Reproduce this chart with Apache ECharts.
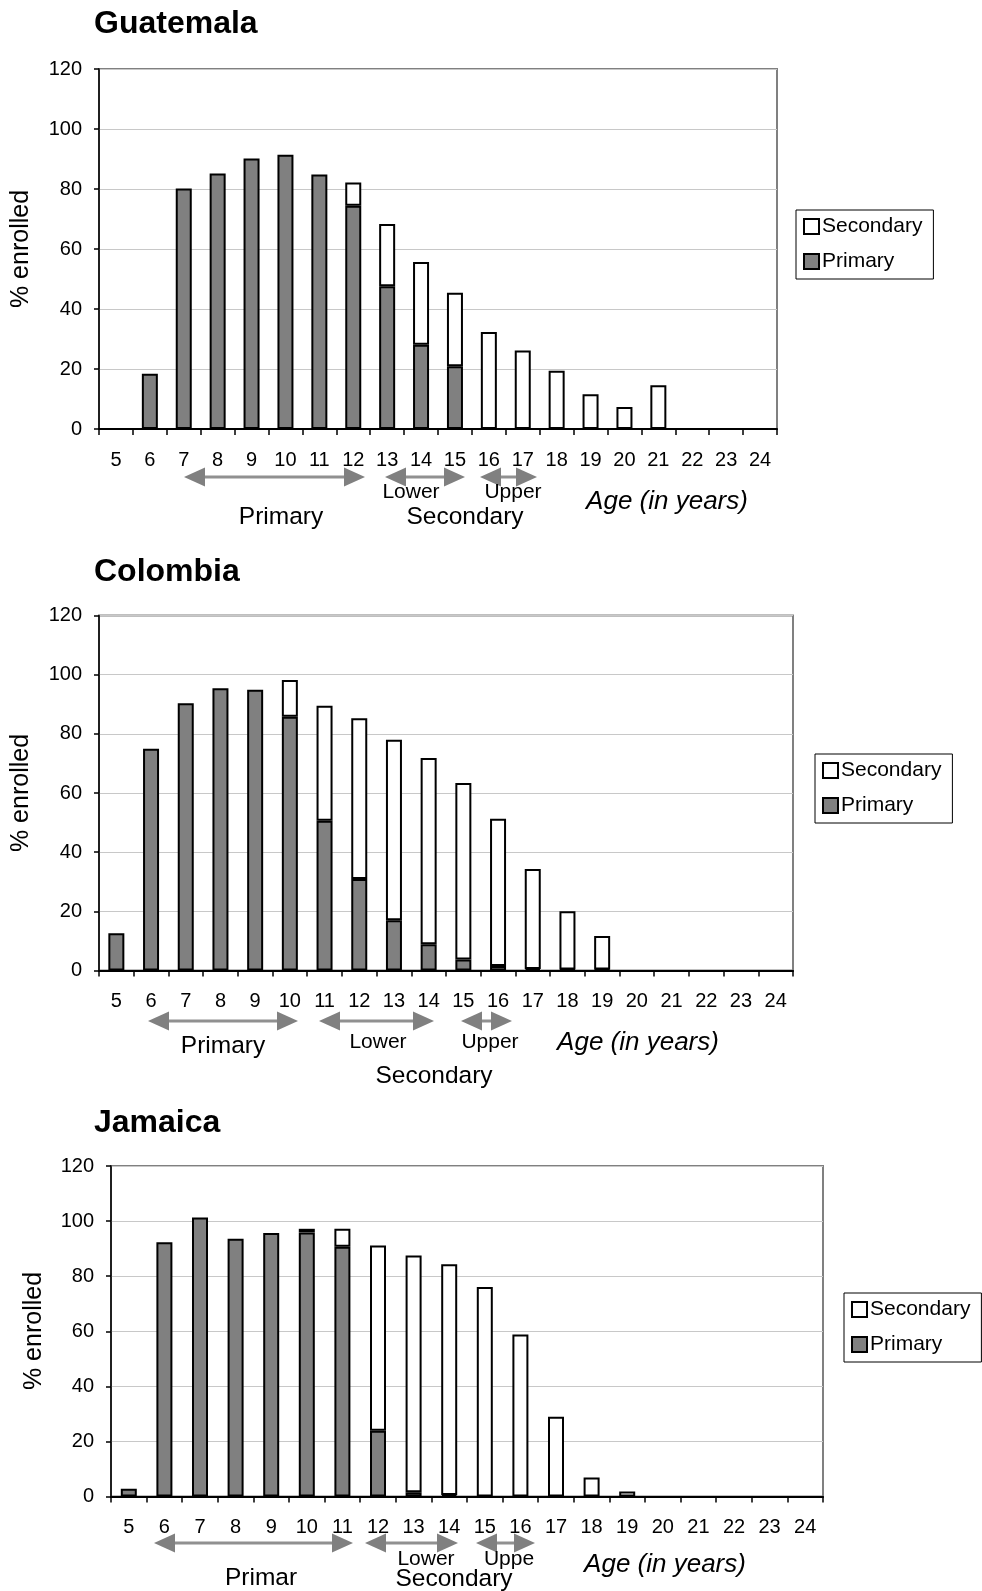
<!DOCTYPE html>
<html>
<head>
<meta charset="utf-8">
<script src="https://cdn.jsdelivr.net/npm/echarts@6/dist/echarts.min.js"></script>
<style>
  html, body { margin: 0; padding: 0; background: #fff; }
  #chart { width: 982px; height: 1591px; }
</style>
</head>
<body>
<div id="chart"></div>
<script>
// Age categories shared by the three panels
const ages = ['5','6','7','8','9','10','11','12','13','14','15','16','17','18','19','20','21','22','23','24'];
const yTicks = { min: 0, max: 120, interval: 20 };

// % enrolled by level, one value per age (5..24)
const guatemalaPrimary   = [0, 18.4, 80.2, 85.2, 90.2, 91.4, 84.8, 74.4, 47.6, 28.1, 20.9, 0, 0, 0, 0, 0, 0, 0, 0, 0];
const guatemalaSecondary = [0, 0, 0, 0, 0, 0, 0, 7.8, 20.7, 27.6, 24.5, 32.3, 26.2, 19.4, 11.6, 7.3, 14.6, 0, 0, 0];

const colombiaPrimary    = [12.6, 75.0, 90.3, 95.4, 94.9, 85.8, 50.6, 30.9, 17.0, 8.9, 3.7, 1.5, 0.5, 0.3, 0.3, 0, 0, 0, 0, 0];
const colombiaSecondary  = [0, 0, 0, 0, 0, 12.4, 38.9, 54.4, 61.0, 62.9, 59.7, 49.8, 33.8, 19.7, 11.4, 0, 0, 0, 0, 0];

const jamaicaPrimary     = [2.8, 92.3, 101.3, 93.6, 95.7, 95.9, 90.7, 23.9, 1.5, 0.5, 0, 0, 0, 0, 0, 0, 0, 0, 0, 0];
const jamaicaSecondary   = [0, 0, 0, 0, 0, 1.3, 6.5, 67.2, 86.0, 83.8, 76.1, 58.8, 29.0, 6.9, 1.8, 0, 0, 0, 0, 0];

const countries = ['Guatemala', 'Colombia', 'Jamaica'];
const levelNames = ['Secondary', 'Primary'];

const FONT = "'Liberation Sans', Arial, sans-serif";
const panels = [
  { grid: { left: 99, top: 69, width: 678, height: 360 }, titleTop: 8, legend: { left: 796, top: 210 },
    yName: { x: 21, y: 249 }, primary: guatemalaPrimary, secondary: guatemalaSecondary },
  { grid: { left: 99, top: 615.5, width: 694, height: 355 }, titleTop: 556, legend: { left: 815, top: 754 },
    yName: { x: 21, y: 793 }, primary: colombiaPrimary, secondary: colombiaSecondary },
  { grid: { left: 111, top: 1166, width: 712, height: 330.5 }, titleTop: 1107, legend: { left: 844, top: 1293 },
    yName: { x: 34, y: 1331 }, primary: jamaicaPrimary, secondary: jamaicaSecondary }
];

// zero means "no bar" for that level
const toBars = arr => arr.map(v => (v === 0 ? '-' : v));

const chart = echarts.init(document.getElementById('chart'), null, { renderer: 'canvas' });

const grids = [], xAxes = [], yAxes = [], series = [], titles = [], legends = [], graphics = [];

panels.forEach((p, i) => {
  grids.push(Object.assign({ show: true, borderColor: '#808080', borderWidth: 2, backgroundColor: 'transparent' }, p.grid));
  titles.push({
    text: countries[i], left: 94, top: p.titleTop, padding: 0,
    textStyle: { fontFamily: FONT, fontSize: 32, fontWeight: 'bold', color: '#000' }
  });
  legends.push({
    data: levelNames, orient: 'vertical', left: p.legend.left, top: p.legend.top,
    padding: [6, 11, 7, 7], itemGap: 14, itemWidth: 15, itemHeight: 15,
    borderColor: '#000', borderWidth: 1, backgroundColor: '#fff',
    icon: 'rect', selectedMode: false,
    itemStyle: { borderColor: '#000', borderWidth: 2 },
    textStyle: { fontFamily: FONT, fontSize: 21, color: '#000', padding: [0, 0, 0, -2] }
  });
  xAxes.push({
    type: 'category', gridIndex: i, data: ages, boundaryGap: true,
    axisLine: { show: true, lineStyle: { color: '#000', width: 2 } },
    axisTick: { show: true, interval: 0, length: 6, lineStyle: { color: '#000', width: 1.5 } },
    axisLabel: { interval: 0, fontFamily: FONT, fontSize: 20, color: '#000', margin: 21 },
    splitLine: { show: false }
  });
  yAxes.push({
    type: 'value', gridIndex: i, min: yTicks.min, max: yTicks.max, interval: yTicks.interval,
    axisLine: { show: true, lineStyle: { color: '#000', width: 1.5 } },
    axisTick: { show: true, length: 5, lineStyle: { color: '#000', width: 1.5 } },
    axisLabel: { fontFamily: FONT, fontSize: 20, color: '#000', margin: 17 },
    splitLine: { show: true, lineStyle: { color: '#c8c8c8', width: 1 } }
  });
  series.push({
    name: 'Primary', type: 'bar', stack: 'lvl' + i, xAxisIndex: i, yAxisIndex: i,
    barWidth: 16, data: toBars(p.primary),
    itemStyle: { color: '#808080', borderColor: '#000', borderWidth: 2 },
    emphasis: { disabled: true }
  });
  series.push({
    name: 'Secondary', type: 'bar', stack: 'lvl' + i, xAxisIndex: i, yAxisIndex: i,
    barWidth: 16, data: toBars(p.secondary),
    itemStyle: { color: '#ffffff', borderColor: '#000', borderWidth: 2 },
    emphasis: { disabled: true }
  });
  graphics.push({
    type: 'text', x: p.yName.x, y: p.yName.y, rotation: Math.PI / 2,
    style: { text: '% enrolled', x: 0, y: 0, font: '25px ' + FONT, fill: '#000',
             align: 'center', verticalAlign: 'middle', textAlign: 'center', textVerticalAlign: 'middle' }
  });
});

// Double-headed arrows marking the school-level age ranges
function arrow(x1, x2, y) {
  const L = 21, H = 9.5;
  return [
    { type: 'line', shape: { x1: x1 + L - 1, y1: y, x2: x2 - L + 1, y2: y }, style: { stroke: '#909090', lineWidth: 3 } },
    { type: 'polygon', shape: { points: [[x1, y], [x1 + L, y - H], [x1 + L, y + H]] }, style: { fill: '#808080' } },
    { type: 'polygon', shape: { points: [[x2, y], [x2 - L, y - H], [x2 - L, y + H]] }, style: { fill: '#808080' } }
  ];
}
function label(text, x, y, size, italic) {
  return {
    type: 'text', x: x, y: y,
    style: { text: text, x: 0, y: 0, font: (italic ? 'italic ' : '') + size + 'px ' + FONT, fill: '#000',
             align: 'center', verticalAlign: 'middle', textAlign: 'center', textVerticalAlign: 'middle' }
  };
}

graphics.push(
  // Guatemala
  ...arrow(184, 365, 477), ...arrow(385, 465, 477), ...arrow(480, 537, 477),
  label('Lower', 411, 492, 21), label('Upper', 513, 492, 21),
  label('Primary', 281, 517, 24.5), label('Secondary', 465, 517, 24.5),
  label('Age (in years)', 667, 502, 26, true),
  // Colombia
  ...arrow(148, 298, 1021), ...arrow(319, 434, 1021), ...arrow(461, 512, 1021),
  label('Primary', 223, 1046, 24.5), label('Lower', 378, 1042, 21), label('Upper', 490, 1042, 21),
  label('Age (in years)', 638, 1043, 26, true), label('Secondary', 434, 1076, 24.5),
  // Jamaica
  ...arrow(154, 353, 1543), ...arrow(365, 458, 1543), ...arrow(476, 535, 1543),
  label('Lower', 426, 1559, 21), label('Uppe', 509, 1559, 21),
  label('Primar', 261, 1578, 24.5), label('Secondary', 454, 1579, 24.5),
  label('Age (in years)', 665, 1565, 26, true)
);

chart.setOption({
  backgroundColor: '#fff',
  animation: false,
  textStyle: { fontFamily: FONT },
  title: titles,
  legend: legends,
  grid: grids,
  xAxis: xAxes,
  yAxis: yAxes,
  series: series,
  graphic: { elements: graphics }
});
</script>
</body>
</html>
